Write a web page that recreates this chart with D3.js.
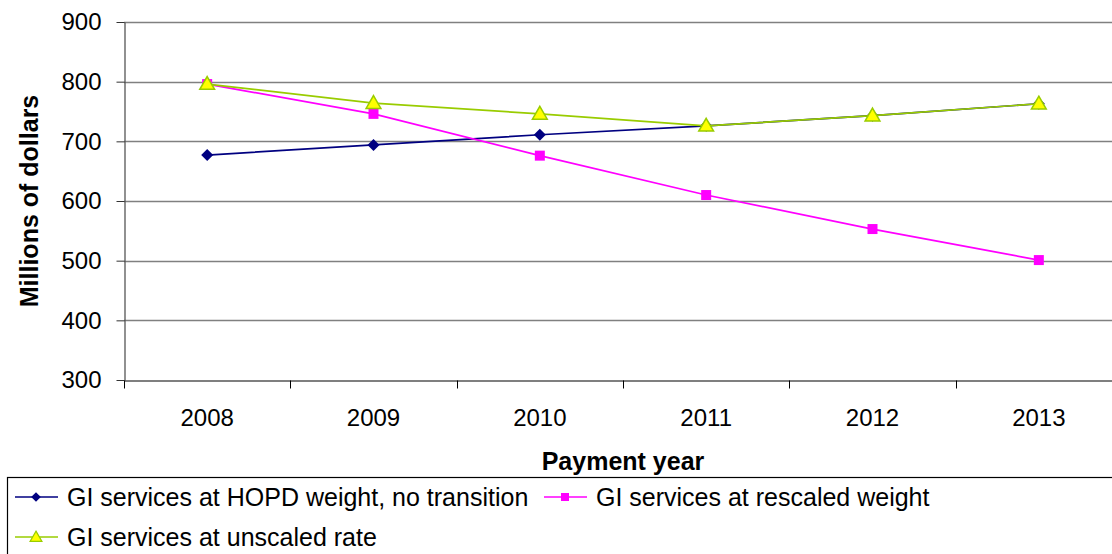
<!DOCTYPE html>
<html>
<head>
<meta charset="utf-8">
<script src="https://cdn.jsdelivr.net/npm/d3@7"></script>
<style>
  html, body { margin: 0; padding: 0; background: #fff; overflow: hidden; }
  svg { display: block; font-family: "Liberation Sans", Arial, sans-serif; }
</style>
</head>
<body>
<svg id="chart" width="1112" height="554"></svg>
<script>
// Payment years and projected spending (millions of dollars)
const years = ["2008", "2009", "2010", "2011", "2012", "2013"];
const hopdNoTransition = [677, 694, 711, 726, 743, 763];
const rescaledWeight = [796, 746, 676, 610, 553, 501];
const unscaledRate = [796, 764, 746, 726, 743, 763];
const yTicks = [300, 400, 500, 600, 700, 800, 900];

const seriesNames = [
  "GI services at HOPD weight, no transition",
  "GI services at rescaled weight",
  "GI services at unscaled rate"
];

const svg = d3.select("#chart");
const W = 1112, H = 554;
const plot = { left: 124, right: 1122, top: 22, bottom: 380 };

const x = d3.scaleBand().domain(years).range([plot.left, plot.right]).padding(0);
const y = d3.scaleLinear().domain([300, 900]).range([plot.bottom, plot.top]);

svg.append("rect").attr("width", W).attr("height", H).attr("fill", "#fff");

// horizontal gridlines
svg.append("g")
  .selectAll("line")
  .data(yTicks.filter(v => v > 300))
  .join("line")
  .attr("x1", plot.left).attr("x2", plot.right)
  .attr("y1", d => Math.round(y(d)) + 0.5).attr("y2", d => Math.round(y(d)) + 0.5)
  .attr("stroke", "#808080").attr("stroke-width", 1.3);

// y axis
const yAxis = svg.append("g")
  .attr("transform", `translate(${plot.left + 0.5},0)`)
  .call(d3.axisLeft(y).tickValues(yTicks).tickSize(8).tickPadding(15).tickSizeOuter(0));
yAxis.select(".domain").attr("stroke", "#555").attr("stroke-width", 1.3);
yAxis.selectAll(".tick line").attr("stroke", "#333");
yAxis.selectAll("text")
  .attr("font-size", 24).attr("fill", "#000")
  .attr("font-family", "Liberation Sans, Arial, sans-serif");

// x axis (labels centred in categories, tick marks on category boundaries)
const xAxis = svg.append("g")
  .attr("transform", `translate(0,${plot.bottom + 0.5})`)
  .call(d3.axisBottom(x).tickSize(0).tickPadding(28).tickSizeOuter(0));
xAxis.select(".domain").attr("stroke", "#000").attr("stroke-width", 1.2);
xAxis.selectAll("text")
  .attr("font-size", 24).attr("fill", "#000")
  .attr("font-family", "Liberation Sans, Arial, sans-serif");
xAxis.selectAll("line.boundary")
  .data(d3.range(years.length + 1))
  .join("line")
  .attr("class", "boundary")
  .attr("x1", i => Math.round(plot.left + i * x.step()) + 0.5)
  .attr("x2", i => Math.round(plot.left + i * x.step()) + 0.5)
  .attr("y1", 0).attr("y2", 8)
  .attr("stroke", "#000").attr("stroke-width", 1);

// axis titles
svg.append("text")
  .attr("transform", `translate(38,${(plot.top + plot.bottom) / 2}) rotate(-90)`)
  .attr("text-anchor", "middle")
  .attr("font-size", 25).attr("font-weight", "bold")
  .text("Millions of dollars");

svg.append("text")
  .attr("x", (plot.left + plot.right) / 2).attr("y", 470)
  .attr("text-anchor", "middle")
  .attr("font-size", 25).attr("font-weight", "bold")
  .text("Payment year");

// marker shapes
const square = d3.symbol().type(d3.symbolSquare).size(100);
const triangle = d3.symbol().type(d3.symbolTriangle).size(95);

const series = [
  { values: hopdNoTransition, color: "#000080", marker: "diamond" },
  { values: rescaledWeight, color: "#FF00FF", marker: "square" },
  { values: unscaledRate, color: "#99CC00", marker: "triangle" }
];

function drawMarker(g, type, color, cx, cy, scale = 1) {
  if (type === "diamond") {
    g.append("path")
      .attr("d", d3.symbol().type(d3.symbolSquare).size(72)())
      .attr("transform", `translate(${cx},${cy}) scale(${scale}) rotate(45)`)
      .attr("fill", color);
  } else if (type === "square") {
    g.append("path")
      .attr("d", square())
      .attr("transform", `translate(${cx},${cy}) scale(${scale})`)
      .attr("fill", color);
  } else {
    g.append("path")
      .attr("d", triangle())
      .attr("transform", `translate(${cx},${cy + 1}) scale(${scale})`)
      .attr("fill", "#FFFF00").attr("stroke", color).attr("stroke-width", 1.5);
  }
}

const line = d3.line()
  .x((d, i) => x(years[i]) + x.bandwidth() / 2)
  .y(d => y(d));

series.forEach(s => {
  const g = svg.append("g");
  g.append("path")
    .datum(s.values)
    .attr("d", line)
    .attr("fill", "none").attr("stroke", s.color).attr("stroke-width", 1.7);
  s.values.forEach((v, i) => {
    drawMarker(g, s.marker, s.color, x(years[i]) + x.bandwidth() / 2, y(v));
  });
});

// legend
const legend = svg.append("g");
legend.append("rect")
  .attr("x", 7.5).attr("y", 477.5).attr("width", 1120).attr("height", 100)
  .attr("fill", "#fff").attr("stroke", "#000").attr("stroke-width", 1.2);

const legendItems = [
  { x: 15, y: 497 },
  { x: 544, y: 497 },
  { x: 15, y: 537 }
];
legendItems.forEach((p, i) => {
  const s = series[i];
  const g = legend.append("g");
  g.append("line")
    .attr("x1", p.x).attr("x2", p.x + 43)
    .attr("y1", p.y).attr("y2", p.y)
    .attr("stroke", s.color).attr("stroke-width", 1.7);
  drawMarker(g, s.marker, s.color, p.x + 21, p.y, 0.8);
  g.append("text")
    .attr("x", p.x + 52).attr("y", p.y)
    .attr("dy", "0.35em")
    .attr("font-size", 25)
    .text(seriesNames[i]);
});
</script>
</body>
</html>
